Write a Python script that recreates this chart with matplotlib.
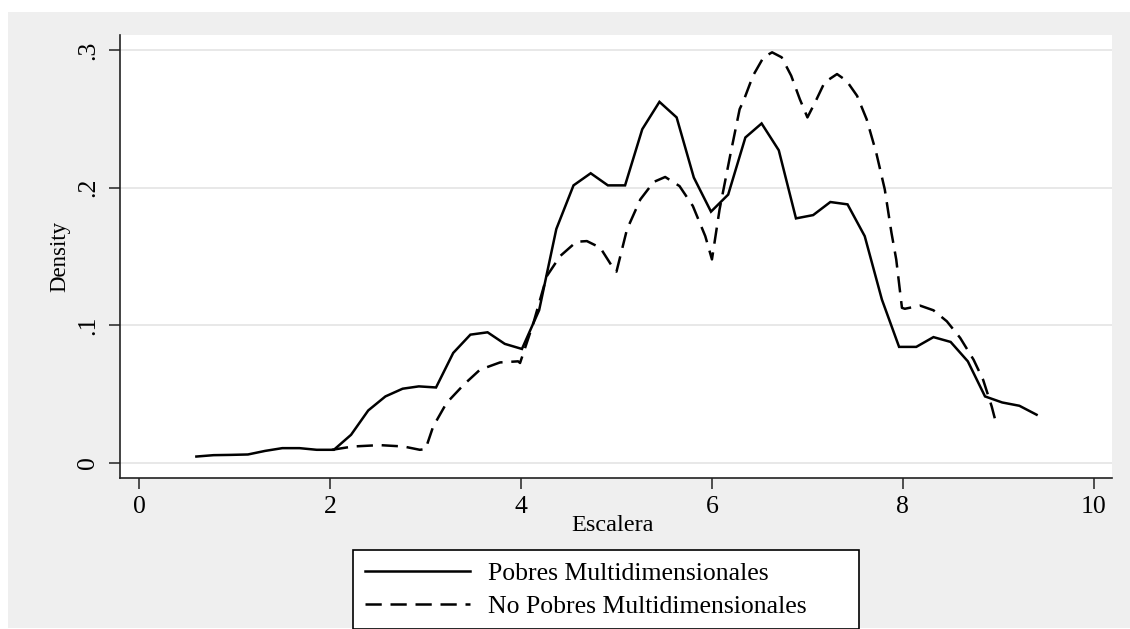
import matplotlib.pyplot as plt
from matplotlib.patches import Rectangle

plt.rcParams['font.family'] = ['Liberation Serif', 'DejaVu Serif']

# kernel density, Pobres Multidimensionales (50 evaluation points)
x_pobres = [0.60, 0.78, 0.96, 1.14, 1.32, 1.50, 1.68, 1.86, 2.04, 2.22,
            2.40, 2.58, 2.76, 2.93, 3.11, 3.29, 3.47, 3.65, 3.83, 4.01,
            4.19, 4.37, 4.55, 4.73, 4.91, 5.09, 5.27, 5.45, 5.63, 5.81,
            5.99, 6.17, 6.35, 6.52, 6.70, 6.88, 7.06, 7.24, 7.42, 7.60,
            7.78, 7.96, 8.14, 8.32, 8.50, 8.68, 8.86, 9.04, 9.22, 9.40]
d_pobres = [0.0046, 0.0056, 0.0058, 0.0061, 0.0087, 0.0107, 0.0107, 0.0095, 0.0095, 0.0204,
            0.0381, 0.0483, 0.0539, 0.0556, 0.0548, 0.0799, 0.0932, 0.0949, 0.0865, 0.0828,
            0.1110, 0.1700, 0.2017, 0.2105, 0.2017, 0.2017, 0.2425, 0.2624, 0.2511, 0.2074,
            0.1826, 0.1950, 0.2365, 0.2467, 0.2272, 0.1777, 0.1801, 0.1896, 0.1879, 0.1648,
            0.1187, 0.0843, 0.0843, 0.0914, 0.0879, 0.0738, 0.0483, 0.0439, 0.0415, 0.0350]

# kernel density, No Pobres Multidimensionales
x_nopobres = [2.02, 2.24, 2.52, 2.77, 2.94, 3.00, 3.08, 3.22, 3.40, 3.57,
              3.78, 3.97, 3.99, 4.13, 4.27, 4.41, 4.58, 4.69, 4.83, 4.98,
              5.00, 5.11, 5.25, 5.39, 5.51, 5.66, 5.80, 5.93, 6.00, 6.08,
              6.19, 6.29, 6.33, 6.43, 6.54, 6.63, 6.73, 6.83, 6.92, 7.00,
              7.08, 7.18, 7.31, 7.41, 7.52, 7.62, 7.72, 7.81, 7.88, 7.93,
              7.99, 8.02, 8.18, 8.32, 8.46, 8.60, 8.74, 8.84, 8.93, 8.98]
d_nopobres = [0.0095, 0.0119, 0.0129, 0.0119, 0.0095, 0.0100, 0.0264, 0.0435, 0.0568, 0.0677,
              0.0730, 0.0738, 0.0726, 0.1017, 0.1357, 0.1503, 0.1607, 0.1612, 0.1564, 0.1400,
              0.1390, 0.1697, 0.1915, 0.2042, 0.2078, 0.2012, 0.1867, 0.1648, 0.1479, 0.1843,
              0.2231, 0.2571, 0.2630, 0.2814, 0.2948, 0.2984, 0.2948, 0.2814, 0.2644, 0.2511,
              0.2620, 0.2766, 0.2826, 0.2777, 0.2668, 0.2498, 0.2256, 0.1988, 0.1673, 0.1479,
              0.1127, 0.1120, 0.1143, 0.1109, 0.1029, 0.0908, 0.0750, 0.0604, 0.0410, 0.0277]

xticks = [0, 2, 4, 6, 8, 10]
yticks = [0, 0.1, 0.2, 0.3]
ytick_labels = ['0', '.1', '.2', '.3']

fig = plt.figure(figsize=(11.3, 6.29), dpi=100)
fig.patch.set_facecolor('white')
fig.patches.append(Rectangle((8 / 1130, 1 / 629), 1122 / 1130, 616 / 629,
                             transform=fig.transFigure, facecolor='#efefef',
                             edgecolor='none', zorder=-10))

ax = fig.add_axes([120 / 1130, 151 / 629, 992 / 1130, 443 / 629])
ax.set_facecolor('white')

ax.plot(x_pobres, d_pobres, color='black', lw=1.8, solid_joinstyle='miter',
        label='Pobres Multidimensionales')
ax.plot(x_nopobres, d_nopobres, color='black', lw=1.8, dashes=(6.5, 3.5),
        label='No Pobres Multidimensionales')

ax.set_xlim(-0.2, 10.19)
ax.set_ylim(-0.011, 0.311)
ax.set_xticks(xticks)
ax.set_yticks(yticks)
ax.set_yticklabels(ytick_labels, rotation=90, va='center')
ax.grid(axis='y', color='#e6e6e6', lw=1.3)
ax.set_axisbelow(True)

for side in ['top', 'right']:
    ax.spines[side].set_visible(False)
for side in ['left', 'bottom']:
    ax.spines[side].set_color('#222222')
    ax.spines[side].set_linewidth(1.2)

ax.tick_params(axis='both', direction='out', length=8, width=1.1,
               color='#222222', labelsize=18.5, pad=5)
ax.tick_params(axis='y', pad=7)

ax.set_xlabel('Escalera', fontsize=17.5)
ax.set_ylabel('Density', fontsize=16.5)
ax.xaxis.set_label_coords(0.4965, -0.084)
ax.yaxis.set_label_coords(-0.050, 0.5)

fig.legend(loc='upper left', bbox_to_anchor=(353 / 1130, 2 / 629, 506 / 1130, 77 / 629),
           mode='expand', ncol=1, fontsize=18.5, frameon=True, fancybox=False,
           edgecolor='black', facecolor='white', framealpha=1,
           handlelength=4.1, handletextpad=0.7, borderpad=0.45, labelspacing=0.4,
           borderaxespad=0)
fig.legends[0].get_frame().set_linewidth(1.2)

fig.savefig('out.png', dpi=100)
